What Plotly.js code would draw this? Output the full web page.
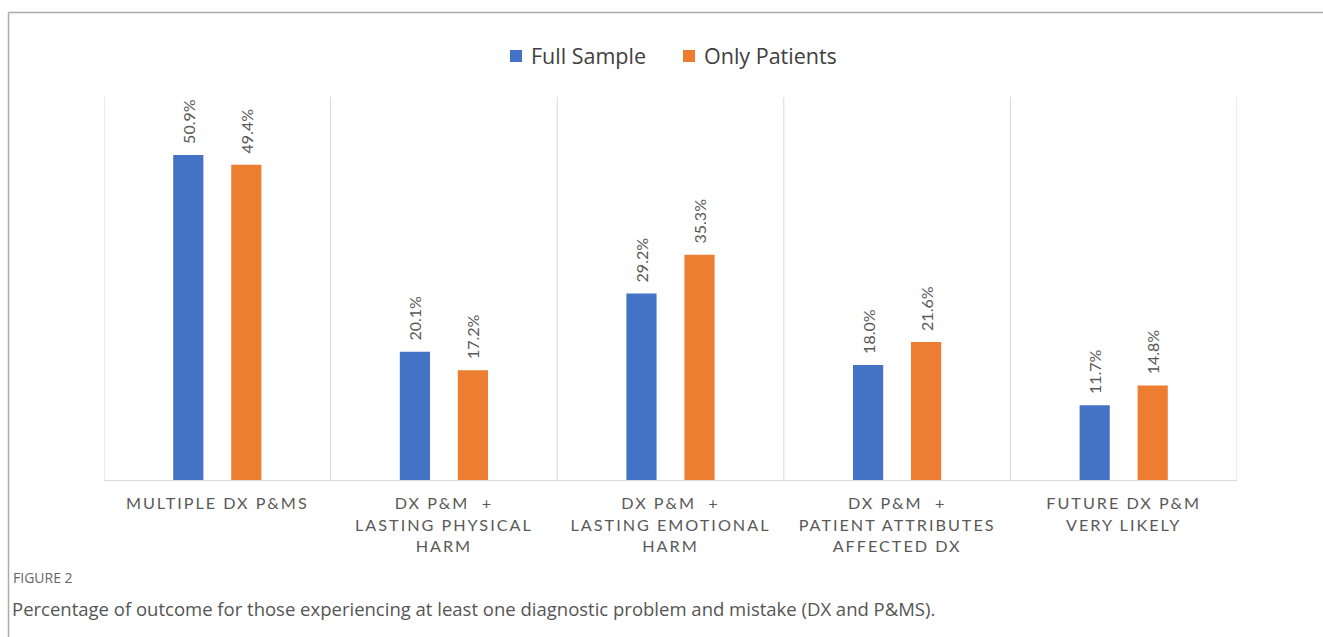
<!DOCTYPE html>
<html>
<head>
<meta charset="utf-8">
<script src="https://cdn.plot.ly/plotly-3.0.1.min.js"></script>
<style>
  html, body { margin: 0; padding: 0; background: #fff; }
  #chart { width: 1323px; height: 637px; }
  #chart .xtick text { letter-spacing: 2px; }
  #chart .legendtext { transform: translateX(-5px); }
</style>
</head>
<body>
<div id="chart"></div>
<script>
const categories = [
  "MULTIPLE DX P&M\u0053",
  "DX P&M\u00a0\u00a0+<br>LASTING PHYSICAL<br>HARM",
  "DX P&M\u00a0\u00a0+<br>LASTING EMOTIONAL<br>HARM",
  "DX P&M\u00a0\u00a0+<br>PATIENT ATTRIBUTES<br>AFFECTED DX",
  "FUTURE DX P&M<br>VERY LIKELY"
];
const fullSample = [50.9, 20.1, 29.2, 18.0, 11.7];
const onlyPatients = [49.4, 17.2, 35.3, 21.6, 14.8];
const seriesNames = ["Full Sample", "Only Patients"];
const seriesColors = ["#4472C4", "#ED7D31"];
const figureLabel = "FIGURE 2";
const captionText = "Percentage of outcome for those experiencing at least one diagnostic problem and mistake (DX and P&MS).";

const W = 1323, H = 637;
const M = { l: 104, r: 86, t: 97, b: 157 };
const pw = W - M.l - M.r, ph = H - M.t - M.b;
const px = x => (x - M.l) / pw;
const py = y => (H - M.b - y) / ph;

function barTrace(name, vals, color) {
  return {
    type: "bar",
    name: name,
    x: categories,
    y: vals,
    marker: { color: color },
    text: vals.map(v => v.toFixed(1) + "%"),
    texttemplate: "\u00a0\u00a0%{text}",
    textposition: "outside",
    textangle: -90,
    constraintext: "none",
    cliponaxis: false,
    textfont: { family: "Lato, 'Liberation Sans', sans-serif", size: 16, color: "#595959" },
    hoverinfo: "skip"
  };
}

const data = [
  barTrace(seriesNames[0], fullSample, seriesColors[0]),
  barTrace(seriesNames[1], onlyPatients, seriesColors[1])
];

const shapes = [];
for (let i = 0; i <= categories.length; i++) {
  shapes.push({
    type: "line", xref: "x", yref: "paper",
    x0: i - 0.5, x1: i - 0.5, y0: 0, y1: 1,
    line: { color: "#d9d9d9", width: 1 }, layer: "below"
  });
}
// outer frame (top and left)
shapes.push({ type: "line", xref: "paper", yref: "paper",
  x0: px(8.5), x1: px(1330), y0: py(12.5), y1: py(12.5),
  line: { color: "#ababab", width: 1.5 } });
shapes.push({ type: "line", xref: "paper", yref: "paper",
  x0: px(8.5), x1: px(8.5), y0: py(12.5), y1: py(645),
  line: { color: "#ababab", width: 1.5 } });

const layout = {
  width: W, height: H,
  margin: M,
  paper_bgcolor: "#fff", plot_bgcolor: "#fff",
  barmode: "group",
  bargap: 0.488,
  bargroupgap: 0.48,
  showlegend: true,
  legend: {
    orientation: "h",
    x: px(496), xanchor: "left",
    y: py(56), yanchor: "middle",
    entrywidth: 128,
    font: { family: "'Open Sans', 'Noto Sans', sans-serif", size: 21.5, color: "#404040" },
    itemclick: false
  },
  xaxis: {
    type: "category",
    showgrid: false,
    showline: true, linecolor: "#d9d9d9", linewidth: 1,
    ticks: "",
    tickfont: { family: "Lato, 'Liberation Sans', sans-serif", size: 16.2, color: "#595959" },
    ticklabelstandoff: 9,
    range: [-0.5, categories.length - 0.5],
    fixedrange: true
  },
  yaxis: {
    range: [0, 60],
    showgrid: false, zeroline: false,
    showticklabels: false, ticks: "",
    fixedrange: true
  },
  shapes: shapes,
  annotations: [
    { xref: "paper", yref: "paper", x: px(11), y: py(577), xanchor: "left", yanchor: "middle",
      text: figureLabel, showarrow: false,
      font: { family: "'Open Sans', 'Noto Sans', sans-serif", size: 14, color: "#666666" } },
    { xref: "paper", yref: "paper", x: px(10), y: py(608), xanchor: "left", yanchor: "middle",
      text: captionText, showarrow: false,
      font: { family: "'Open Sans', 'Noto Sans', sans-serif", size: 18.5, color: "#555555" } }
  ]
};

Plotly.newPlot("chart", data, layout, { displayModeBar: false, staticPlot: true });
</script>
</body>
</html>
